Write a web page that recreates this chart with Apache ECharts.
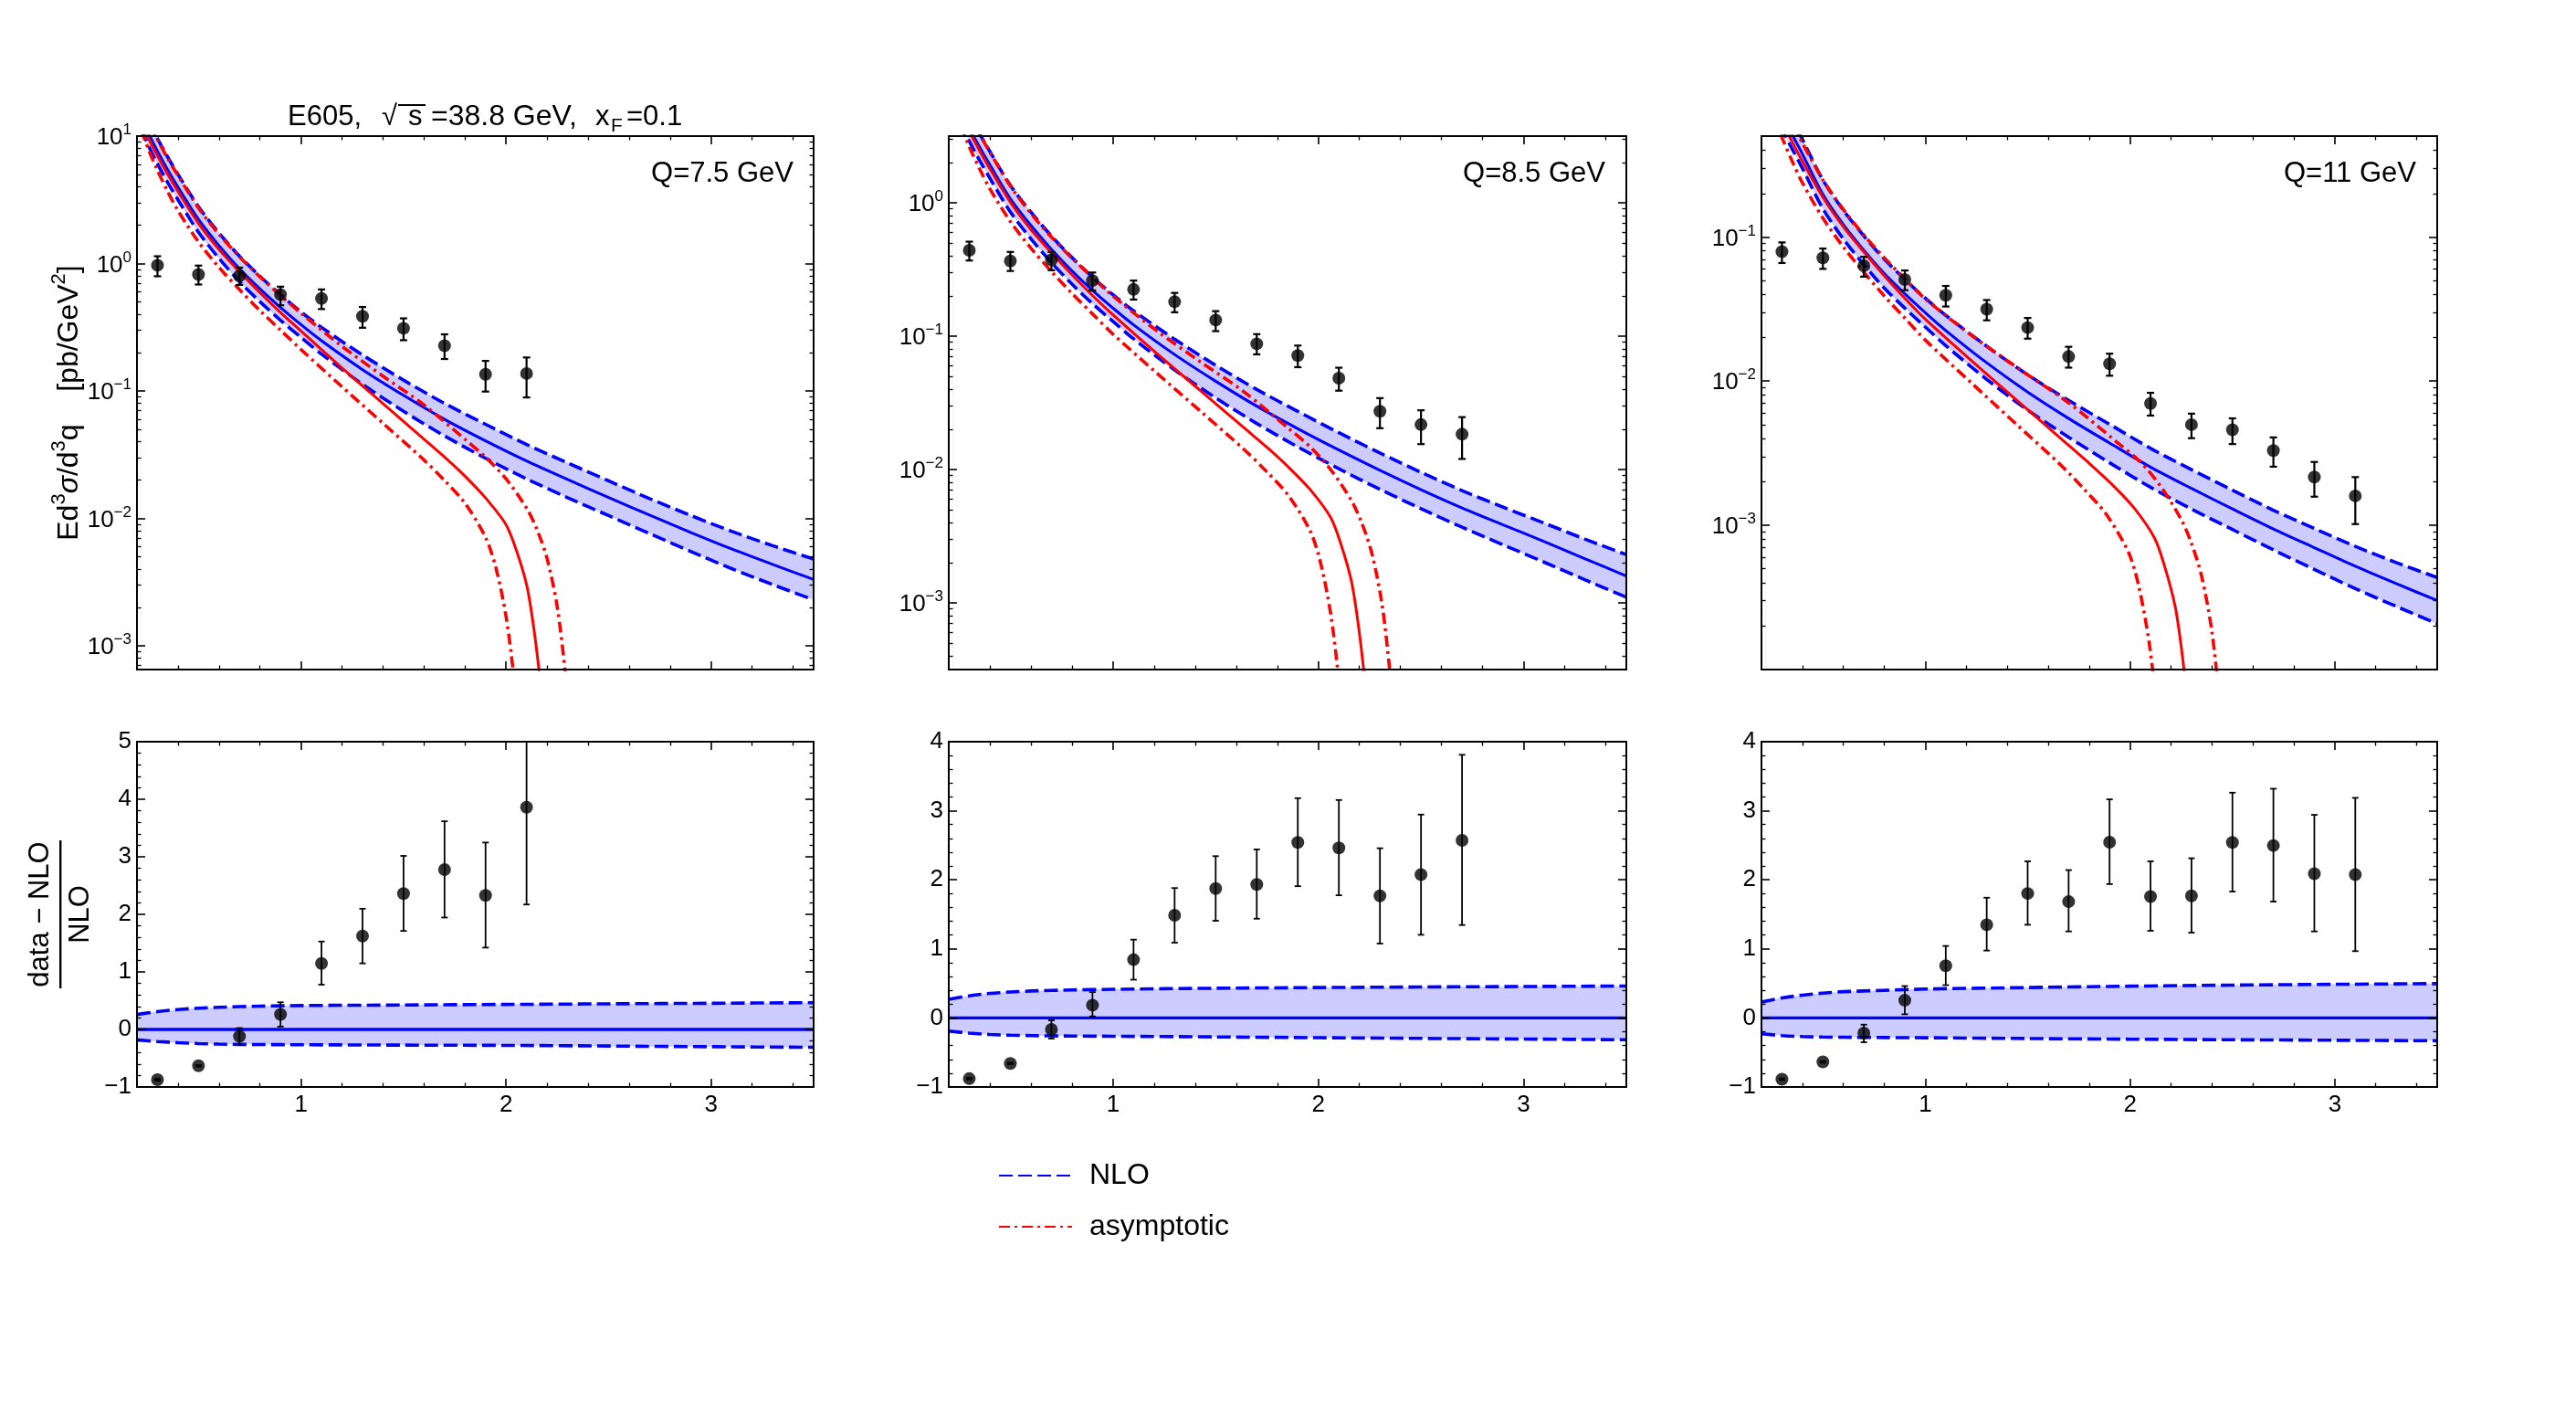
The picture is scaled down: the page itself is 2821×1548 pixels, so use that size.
<!DOCTYPE html>
<html><head><meta charset="utf-8">
<script src="https://cdn.jsdelivr.net/npm/echarts@6/dist/echarts.min.js"></script>
<style>html,body{margin:0;padding:0;background:#fff}#c{width:2821px;height:1548px}</style>
</head><body><div id="c"></div>
<script>
// ---------------- DATA ----------------
const panelTitles = ['Q=7.5 GeV', 'Q=8.5 GeV', 'Q=11 GeV'];
const xTickLabels = [1, 2, 3];

// theory grid (q_T)
const xNLO = [0.22,0.26,0.3,0.35,0.4,0.5,0.6,0.7,0.8,0.9,1.0,1.1,1.3,1.5,1.7,1.9,2.1,2.3,2.5,2.7,2.9,3.1,3.3,3.5];

// Q = 7.5 GeV
const nlo75   = [14.45,10.23,7.62,5.43,3.981,2.218,1.380,0.9078,0.631,0.4519,0.3311,0.2477,0.1469,0.0923,0.0598,0.04055,0.02818,0.02018,0.01459,0.01059,0.00776,0.00575,0.004345,0.003311];
const nloUp75 = [18.20,12.88,9.59,6.84,5.012,2.793,1.738,1.143,0.794,0.5689,0.4169,0.3155,0.1914,0.1216,0.0798,0.0547,0.0380,0.02723,0.01968,0.01429,0.01054,0.00791,0.0061,0.00479];
const nloLo75 = [11.48,8.128,6.053,4.315,3.162,1.762,1.0965,0.7211,0.5012,0.3589,0.263,0.1945,0.1127,0.0692,0.04436,0.02958,0.02042,0.01452,0.0105,0.00759,0.0055,0.004027,0.00302,0.00229];
const asyX75   = [0.22,0.26,0.3,0.35,0.4,0.5,0.6,0.7,0.8,0.9,1.0,1.2,1.4,1.6,1.7,1.8,1.9,2.0,2.05,2.1,2.13,2.16,2.18];
const asy75    = [13.18,9.333,7.0,5.012,3.673,2.065,1.288,0.863,0.5888,0.4121,0.2951,0.1514,0.0794,0.0417,0.0302,0.0214,0.01445,0.00891,0.00562,0.00302,0.00158,0.000661,0.000316];
const asyLoX75 = [0.22,0.26,0.3,0.35,0.4,0.5,0.6,0.7,0.8,0.9,1.0,1.2,1.4,1.6,1.7,1.8,1.9,1.95,2.0,2.035,2.055];
const asyLo75  = [11.2,7.59,5.37,3.67,2.60,1.479,0.933,0.624,0.4266,0.300,0.2113,0.1079,0.0557,0.02867,0.01977,0.01312,0.00708,0.00412,0.0017,0.000631,0.000316];
const asyUpX75 = [0.22,0.26,0.3,0.35,0.4,0.5,0.6,0.7,0.8,0.9,1.0,1.2,1.4,1.6,1.8,1.9,2.0,2.1,2.15,2.2,2.25,2.29,2.31];
const asyUp75  = [17.78,12.59,9.38,6.68,4.90,2.729,1.698,1.130,0.785,0.5623,0.4074,0.2239,0.1306,0.0776,0.0417,0.0302,0.0204,0.01202,0.00822,0.00484,0.002,0.000589,0.000251];
const datX75 = [0.3,0.5,0.7,0.9,1.1,1.3,1.5,1.7,1.9,2.1];
const dat75  = [0.969,0.819,0.80,0.570,0.532,0.385,0.310,0.226,0.135,0.137];
const datLo75 = [0.794,0.684,0.679,0.470,0.439,0.313,0.250,0.178,0.0988,0.0889];
const datHi75 = [1.14,0.963,0.928,0.658,0.626,0.456,0.371,0.278,0.172,0.183];

// Q = 8.5 GeV
const nlo85   = [6.918,4.898,3.639,2.618,1.928,1.074,0.6761,0.4477,0.309,0.2203,0.1622,0.1216,0.0728,0.0459,0.02985,0.02023,0.014,0.00986,0.00706,0.00515,0.003846,0.002884,0.002138,0.001592];
const nloUp85 = [8.71,6.166,4.581,3.296,2.427,1.352,0.851,0.5636,0.389,0.2773,0.2042,0.1549,0.0948,0.0605,0.0398,0.02729,0.01888,0.0133,0.00953,0.00695,0.00522,0.003963,0.003,0.0023];
const nloLo85 = [5.495,3.89,2.891,2.08,1.531,0.8531,0.537,0.3556,0.2455,0.175,0.1288,0.0955,0.0558,0.03443,0.02213,0.01476,0.01014,0.0071,0.00508,0.00369,0.002723,0.002018,0.001486,0.001102];
const asyX85   = [0.22,0.26,0.3,0.35,0.4,0.5,0.6,0.7,0.8,0.9,1.0,1.213,1.427,1.64,1.747,1.853,1.96,2.06,2.11,2.16,2.19,2.22,2.24];
const asy85    = [6.455,4.571,3.429,2.455,1.799,1.011,0.6309,0.4227,0.2884,0.2018,0.1445,0.07416,0.03889,0.02042,0.01479,0.01048,0.007078,0.004364,0.002753,0.001479,0.000774,0.000324,0.000155];
const asyLoX85 = [0.22,0.26,0.3,0.35,0.4,0.5,0.6,0.7,0.8,0.9,1.0,1.213,1.427,1.64,1.747,1.853,1.96,2.01,2.06,2.095,2.115];
const asyLo85  = [5.486,3.718,2.63,1.798,1.273,0.7244,0.457,0.3056,0.209,0.1469,0.1035,0.05285,0.02728,0.01404,0.009683,0.006426,0.003468,0.002018,0.000833,0.000309,0.000155];
const asyUpX85 = [0.22,0.26,0.3,0.35,0.4,0.5,0.6,0.7,0.8,0.9,1.0,1.213,1.427,1.64,1.853,1.96,2.06,2.16,2.21,2.26,2.31,2.35,2.37];
const asyUp85  = [8.709,6.167,4.594,3.272,2.4,1.337,0.8317,0.5535,0.3845,0.2754,0.1995,0.1097,0.06397,0.03801,0.02042,0.01479,0.009992,0.005887,0.004026,0.002371,0.00098,0.000288,0.000123];
const datX85 = [0.3,0.5,0.7,0.9,1.1,1.3,1.5,1.7,1.9,2.1,2.3,2.5,2.7];
const dat85  = [0.44,0.366,0.373,0.261,0.224,0.181,0.132,0.0876,0.0716,0.0484,0.0273,0.0217,0.0184];
const datLo85 = [0.369,0.308,0.312,0.22,0.188,0.151,0.109,0.073,0.0585,0.039,0.0204,0.0155,0.012];
const datHi85 = [0.511,0.428,0.428,0.30,0.261,0.211,0.154,0.1035,0.085,0.058,0.0343,0.0278,0.0247];

// Q = 11 GeV
const nlo11   = [1.318,0.9333,0.7047,0.5129,0.3758,0.1972,0.1216,0.0807,0.05559,0.04036,0.02985,0.02244,0.0134,0.00839,0.00551,0.003724,0.002535,0.001803,0.0013,0.000944,0.0007,0.00052,0.000394,0.000301];
const nloUp11 = [1.66,1.175,0.8872,0.6457,0.4732,0.2483,0.1531,0.1016,0.07,0.0508,0.03758,0.02858,0.01746,0.01107,0.00735,0.005023,0.00342,0.002432,0.001754,0.001274,0.000951,0.000715,0.000552,0.000435];
const nloLo11 = [1.047,0.7413,0.5598,0.4074,0.2985,0.1567,0.0966,0.0641,0.04416,0.03206,0.02371,0.01762,0.01028,0.0063,0.004083,0.002716,0.001837,0.001297,0.000935,0.000676,0.000495,0.000364,0.000274,0.000208];
const asyX11   = [0.22,0.26,0.3,0.35,0.4,0.5,0.6,0.7,0.8,0.9,1.0,1.227,1.453,1.68,1.793,1.907,2.02,2.12,2.17,2.22,2.25,2.28,2.30];
const asy11    = [1.202,0.8512,0.6384,0.4571,0.335,0.1883,0.1175,0.0787,0.0537,0.03758,0.02691,0.01381,0.007241,0.003803,0.002754,0.001952,0.001318,0.000813,0.000513,0.000275,0.000144,0.0000603,0.0000288];
const asyLoX11 = [0.22,0.26,0.3,0.35,0.4,0.5,0.6,0.7,0.8,0.9,1.0,1.221,1.441,1.662,1.772,1.883,1.993,2.043,2.093,2.128,2.148];
const asyLo11  = [1.021,0.6922,0.4897,0.3347,0.2371,0.1349,0.08509,0.05691,0.03891,0.02736,0.01927,0.00984,0.00508,0.002615,0.001803,0.001197,0.000646,0.000376,0.000155,0.0000575,0.0000288];
const asyUpX11 = [0.22,0.26,0.3,0.35,0.4,0.5,0.6,0.7,0.8,0.9,1.0,1.233,1.467,1.70,1.933,2.05,2.15,2.25,2.30,2.35,2.40,2.44,2.46];
const asyUp11  = [1.622,1.148,0.8555,0.6092,0.4469,0.2489,0.1549,0.1031,0.07159,0.05128,0.03716,0.02042,0.01191,0.007077,0.003803,0.002754,0.00186,0.001096,0.00075,0.000441,0.000182,0.0000537,0.0000229];
const datX11 = [0.3,0.5,0.7,0.9,1.1,1.3,1.5,1.7,1.9,2.1,2.3,2.5,2.7,2.9,3.1];
const dat11  = [0.079,0.0716,0.063,0.0507,0.0394,0.0315,0.0235,0.0148,0.0132,0.0070,0.00499,0.0046,0.0033,0.00216,0.0016];
const datLo11 = [0.0659,0.060,0.053,0.0427,0.0329,0.0264,0.0197,0.0124,0.0109,0.00577,0.00402,0.00366,0.00255,0.00158,0.00102];
const datHi11 = [0.0916,0.083,0.0727,0.0585,0.0457,0.0365,0.0274,0.0173,0.0155,0.0083,0.00595,0.00552,0.00407,0.00275,0.00216];

// ratio panels (data - NLO)/NLO
const xBand = [0.2,0.3,0.4,0.5,0.6,0.8,1.0,1.5,2.0,2.5,3.0,3.5];
const bandUp75 = [0.26,0.31,0.345,0.37,0.385,0.405,0.415,0.425,0.435,0.445,0.455,0.465];
const bandLo75 = [-0.18,-0.21,-0.23,-0.245,-0.255,-0.262,-0.266,-0.272,-0.277,-0.288,-0.3,-0.31];
const bandUp85 = [0.27,0.32,0.355,0.375,0.39,0.405,0.415,0.43,0.44,0.448,0.455,0.462];
const bandLo85 = [-0.19,-0.22,-0.24,-0.25,-0.256,-0.262,-0.265,-0.275,-0.286,-0.296,-0.306,-0.316];
const bandUp11 = [0.23,0.29,0.33,0.36,0.38,0.40,0.418,0.44,0.46,0.475,0.487,0.497];
const bandLo11 = [-0.23,-0.255,-0.27,-0.276,-0.28,-0.284,-0.287,-0.298,-0.308,-0.316,-0.323,-0.33];
const ratio75   = [-0.873,-0.631,-0.119,0.261,1.148,1.623,2.361,2.778,2.33,3.86];
const ratioLo75 = [-0.89,-0.645,-0.266,0.05,0.778,1.148,1.712,1.945,1.422,2.171];
const ratioHi75 = [-0.856,-0.617,0.024,0.472,1.528,2.098,3.016,3.617,3.248,5.0];
const ratio85   = [-0.879,-0.659,-0.167,0.185,0.844,1.486,1.873,1.934,2.541,2.462,1.767,2.075,2.571];
const ratioLo85 = [-0.89,-0.67,-0.299,0.022,0.554,1.090,1.407,1.437,1.908,1.776,1.077,1.204,1.345];
const ratioHi85 = [-0.868,-0.648,-0.035,0.374,1.134,1.881,2.343,2.44,3.182,3.156,2.457,2.945,3.811];
const ratio11   = [-0.888,-0.637,-0.22,0.255,0.756,1.349,1.802,1.684,2.545,1.758,1.767,2.541,2.497,2.088,2.075];
const ratioLo11 = [-0.9,-0.648,-0.352,0.053,0.475,0.976,1.349,1.253,1.938,1.262,1.235,1.829,1.684,1.253,0.967];
const ratioHi11 = [-0.876,-0.626,-0.097,0.462,1.042,1.741,2.268,2.141,3.165,2.268,2.312,3.262,3.319,2.941,3.187];

// axis ranges / tick labels
const yRangeTop = [[6.5e-4, 10], [3.162e-4, 3.162], [1e-4, 0.5]];
const yTicksTop = [[1e-3,1e-2,0.1,1,10],[1e-3,1e-2,0.1,1],[1e-3,1e-2,0.1]];
const yRangeBot = [[-1, 5], [-1, 4], [-1, 4]];

// ---------------- BUILD ----------------
const FONT = '"Liberation Sans", Arial, Helvetica, sans-serif';
const BLUE = '#0000ff', RED = '#ff0000', FILL = '#ccccff';
const grids = [
  {left:150, top:149, width:741, height:584},
  {left:1039, top:149, width:742, height:584},
  {left:1929, top:149, width:740, height:584},
  {left:150, top:812, width:741, height:378},
  {left:1039, top:812, width:742, height:378},
  {left:1929, top:812, width:740, height:378}
];
const xMinor = [0.4,0.6,0.8,1.2,1.4,1.6,1.8,2.2,2.4,2.6,2.8,3.2,3.4];
function logMinor(min, max){const o=[];for(let e=-5;e<=2;e++)for(let k=2;k<=9;k++){const v=+(k*Math.pow(10,e)).toPrecision(6);if(v>min*1.0001&&v<max*0.9999)o.push(v);}return o;}
function linMinor(min, max){const o=[];for(let i=Math.round(min*5);i<=Math.round(max*5);i++){if(i%5!==0)o.push(i/5);}return o;}
const axLine = {show:true, onZero:false, lineStyle:{color:'#000', width:2}};
const noLine = {show:false, onZero:false};
const tkMaj = {color:'#000', width:1.6};
const tkMin = {color:'#000', width:1.3};
const xAxes = [], yAxes = [];
grids.forEach((g, gi) => {
  const bottomRow = gi >= 3;
  const base = {type:'value', gridIndex:gi, min:0.2, max:3.5, splitLine:{show:false}, z:10, silent:true};
  xAxes.push({...base, position:'bottom', axisLine:axLine,
    axisTick:{show:true, inside:true, length:9, customValues:xTickLabels, lineStyle:tkMaj},
    axisLabel:{show:bottomRow, customValues:xTickLabels, margin:7, fontSize:26, color:'#000', fontFamily:FONT}});
  xAxes.push({...base, position:'bottom', axisLine:noLine,
    axisTick:{show:true, inside:true, length:4.5, customValues:xMinor, lineStyle:tkMin}, axisLabel:{show:false}});
  xAxes.push({...base, position:'top', axisLine:axLine,
    axisTick:{show:true, inside:true, length:9, customValues:xTickLabels, lineStyle:tkMaj}, axisLabel:{show:false}});
  xAxes.push({...base, position:'top', axisLine:noLine,
    axisTick:{show:true, inside:true, length:4.5, customValues:xMinor, lineStyle:tkMin}, axisLabel:{show:false}});

  let ybase, major, minor, fmt, rich;
  if (!bottomRow) {
    const [mn, mx] = yRangeTop[gi];
    ybase = {type:'log', logBase:10, gridIndex:gi, min:mn, max:mx, splitLine:{show:false}, z:10, silent:true};
    major = yTicksTop[gi]; minor = logMinor(mn, mx);
    fmt = v => {const e = Math.round(Math.log10(v)); return '{b|10}{s|' + (e < 0 ? '\u2212' + (-e) : e) + '}';};
    rich = {b:{fontSize:26, fontFamily:FONT, color:'#000', lineHeight:30, verticalAlign:'bottom'}, s:{fontSize:17, fontFamily:FONT, color:'#000', lineHeight:17, verticalAlign:'top'}};
  } else {
    const [mn, mx] = yRangeBot[gi-3];
    ybase = {type:'value', gridIndex:gi, min:mn, max:mx, splitLine:{show:false}, z:10, silent:true};
    major = []; for (let v = mn; v <= mx; v++) major.push(v);
    minor = linMinor(mn, mx);
    fmt = v => (v < 0 ? '\u2212' + (-v) : String(v));
    rich = undefined;
  }
  const left = {...ybase, position:'left', axisLine:axLine,
    axisTick:{show:true, inside:true, length:9, customValues:major, lineStyle:tkMaj},
    axisLabel:{show:true, customValues:major, formatter:fmt, rich:rich, margin:6, fontSize:26, color:'#000', fontFamily:FONT}};
  if (gi === 0) {
    Object.assign(left, {name:'{n|Ed}{p|3}{i|\u03c3}{n|/d}{p|3}{n|q    [pb/GeV}{p|2}{n|]}', nameLocation:'middle', nameRotate:90, nameGap:58,
      nameTextStyle:{rich:{
        n:{fontSize:32, fontFamily:FONT, color:'#000', lineHeight:38, verticalAlign:'bottom'},
        i:{fontSize:32, fontFamily:FONT, fontStyle:'italic', color:'#000', lineHeight:38, verticalAlign:'bottom'},
        p:{fontSize:22, fontFamily:FONT, color:'#000', lineHeight:23, verticalAlign:'top'}}}});
  }
  if (gi === 3) {
    Object.assign(left, {name:'data \u2212 NLO\nNLO', nameLocation:'middle', nameRotate:90, nameGap:40,
      nameTextStyle:{fontSize:31, fontFamily:FONT, color:'#000', lineHeight:44, align:'center'}});
  }
  yAxes.push(left);
  yAxes.push({...ybase, position:'left', axisLine:noLine,
    axisTick:{show:true, inside:true, length:4.5, customValues:minor, lineStyle:tkMin}, axisLabel:{show:false}});
  yAxes.push({...ybase, position:'right', axisLine:axLine,
    axisTick:{show:true, inside:true, length:9, customValues:major, lineStyle:tkMaj}, axisLabel:{show:false}});
  yAxes.push({...ybase, position:'right', axisLine:noLine,
    axisTick:{show:true, inside:true, length:4.5, customValues:minor, lineStyle:tkMin}, axisLabel:{show:false}});
});

const pair = (xs, ys) => xs.map((x, i) => [x, ys[i]]);
function line(gi, name, xs, ys, ls, z) {
  return {type:'line', name:name, xAxisIndex:4*gi, yAxisIndex:4*gi, data:pair(xs, ys), symbol:'none', showSymbol:false,
    smooth:0.3, clip:true, lineStyle:ls, itemStyle:{color:ls.color}, z:z, silent:true, animation:false};
}
function fill(gi, xs, ys, color) {
  return {type:'line', name:'band', xAxisIndex:4*gi, yAxisIndex:4*gi, data:pair(xs, ys), symbol:'none', showSymbol:false,
    smooth:0.3, clip:true, lineStyle:{width:0, opacity:0}, itemStyle:{color:color}, areaStyle:{color:color, opacity:1, origin:'start'}, z:1, silent:true, animation:false};
}
function scatter(gi, xs, ys) {
  return {type:'scatter', name:'data', xAxisIndex:4*gi, yAxisIndex:4*gi, data:pair(xs, ys), symbol:'circle', symbolSize:14,
    itemStyle:{color:'#000'}, z:6, silent:true, animation:false};
}
function errbars(gi, xs, lo, hi, lw, cap) {
  return {type:'custom', name:'err', xAxisIndex:4*gi, yAxisIndex:4*gi, z:6, silent:true, animation:false, clip:true,
    data: xs.map((x, i) => [x, lo[i], hi[i]]), encode:{x:0, y:[1, 2]},
    renderItem:(params, api) => {
      const a = api.coord([api.value(0), api.value(1)]);
      const b = api.coord([api.value(0), api.value(2)]);
      const st = {stroke:'#000', lineWidth:lw};
      return {type:'group', children:[
        {type:'line', shape:{x1:a[0], y1:a[1], x2:b[0], y2:b[1]}, style:st},
        {type:'line', shape:{x1:a[0]-cap, y1:a[1], x2:a[0]+cap, y2:a[1]}, style:st},
        {type:'line', shape:{x1:b[0]-cap, y1:b[1], x2:b[0]+cap, y2:b[1]}, style:st}
      ]};
    }};
}
const DASH = {color:BLUE, width:3.6, type:[15, 6]};
const SOLIDB = {color:BLUE, width:3};
const SOLIDR = {color:RED, width:3};
const DASHDOT = {color:RED, width:3.6, type:[12, 5, 3, 5]};

const tops = [
  {nlo:nlo75, up:nloUp75, lo:nloLo75, ax:asyX75, a:asy75, alx:asyLoX75, al:asyLo75, aux:asyUpX75, au:asyUp75, dx:datX75, d:dat75, dl:datLo75, dh:datHi75},
  {nlo:nlo85, up:nloUp85, lo:nloLo85, ax:asyX85, a:asy85, alx:asyLoX85, al:asyLo85, aux:asyUpX85, au:asyUp85, dx:datX85, d:dat85, dl:datLo85, dh:datHi85},
  {nlo:nlo11, up:nloUp11, lo:nloLo11, ax:asyX11, a:asy11, alx:asyLoX11, al:asyLo11, aux:asyUpX11, au:asyUp11, dx:datX11, d:dat11, dl:datLo11, dh:datHi11}
];
const bots = [
  {up:bandUp75, lo:bandLo75, dx:datX75, r:ratio75, rl:ratioLo75, rh:ratioHi75},
  {up:bandUp85, lo:bandLo85, dx:datX85, r:ratio85, rl:ratioLo85, rh:ratioHi85},
  {up:bandUp11, lo:bandLo11, dx:datX11, r:ratio11, rl:ratioLo11, rh:ratioHi11}
];
const series = [];
tops.forEach((p, gi) => {
  series.push(fill(gi, xNLO, p.up, FILL));
  series.push(fill(gi, xNLO, p.lo, '#ffffff'));
  series.push(line(gi, 'NLO', xNLO, p.up, DASH, 3));
  series.push(line(gi, 'NLO', xNLO, p.lo, DASH, 3));
  series.push(line(gi, 'NLO central', xNLO, p.nlo, SOLIDB, 3));
  series.push(line(gi, 'asymptotic', p.aux, p.au, DASHDOT, 4));
  series.push(line(gi, 'asymptotic', p.alx, p.al, DASHDOT, 4));
  series.push(line(gi, 'asymptotic central', p.ax, p.a, SOLIDR, 4));
  series.push(errbars(gi, p.dx, p.dl, p.dh, 2.2, 4));
  series.push(scatter(gi, p.dx, p.d));
});
bots.forEach((p, i) => {
  const gi = i + 3;
  series.push(fill(gi, xBand, p.up, FILL));
  series.push(fill(gi, xBand, p.lo, '#ffffff'));
  series.push(line(gi, 'NLO', xBand, p.up, DASH, 3));
  series.push(line(gi, 'NLO', xBand, p.lo, DASH, 3));
  series.push(line(gi, 'NLO central', [0.2, 3.5], [0, 0], {color:BLUE, width:3.4}, 3));
  series.push(errbars(gi, p.dx, p.rl, p.rh, 1.8, 3.5));
  series.push(scatter(gi, p.dx, p.r));
});

const T = (x, y, text, size, align, extra) => ({type:'text', x:x, y:y, silent:true, z:20,
  style:Object.assign({text:text, fontSize:size, fontFamily:FONT, fill:'#000', align:align, verticalAlign:'middle', textAlign:align, textVerticalAlign:'middle'}, extra || {})});
const graphic = [
  T(315, 128, 'E605,', 31, 'left'),
  T(418, 128, '\u221a', 31, 'left'),
  T(447, 128, 's', 31, 'left'),
  {type:'line', silent:true, z:20, shape:{x1:436, y1:115, x2:466, y2:115}, style:{stroke:'#000', lineWidth:2}},
  T(472, 128, '=38.8 GeV,', 32, 'left'),
  T(652, 128, 'x', 31, 'left'),
  T(669, 138, 'F', 21, 'left'),
  T(686, 128, '=0.1', 31, 'left'),
  T(869, 190, panelTitles[0], 31, 'right'),
  T(1758, 190, panelTitles[1], 31, 'right'),
  T(2646, 190, panelTitles[2], 31, 'right'),
  {type:'rect', silent:true, z:20, shape:{x:65, y:920, width:2.4, height:162}, style:{fill:'#000'}}
];

const chart = echarts.init(document.getElementById('c'), null, {renderer:'canvas'});
chart.setOption({
  animation:false,
  backgroundColor:'#ffffff',
  grid: grids.map(g => Object.assign({show:false, containLabel:false}, g)),
  xAxis: xAxes,
  yAxis: yAxes,
  legend: {orient:'vertical', left:1088, top:1264, itemWidth:80, itemHeight:14, itemGap:20, selectedMode:false,
    itemStyle:{opacity:0, borderWidth:0},
    data:['NLO', 'asymptotic'], textStyle:{fontSize:32, fontFamily:FONT, color:'#000', lineHeight:36, padding:[0,0,0,14]}},
  series: series,
  graphic: graphic
});
</script></body></html>
